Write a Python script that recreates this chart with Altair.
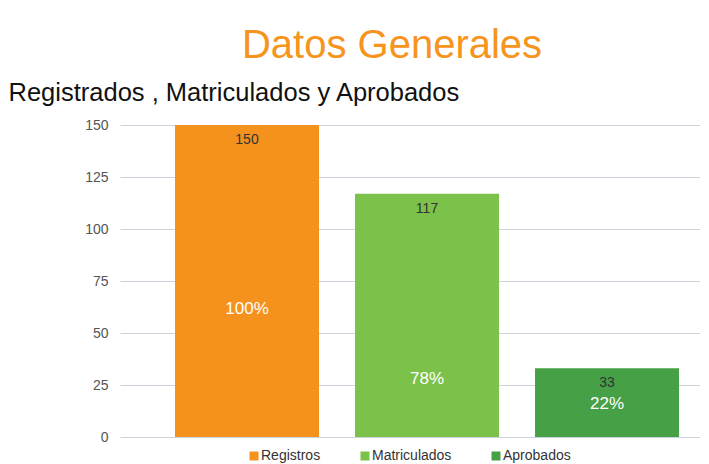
import altair as alt
import pandas as pd

categories = ["Registros", "Matriculados", "Aprobados"]
values = [150, 117, 33]
percents = ["100%", "78%", "22%"]
pct_label_at = [61.5, 28, 16]
colors = ["#f5921e", "#7cc24a", "#46a046"]
y_ticks = [0, 25, 50, 75, 100, 125, 150]

df = pd.DataFrame({
    "cat": categories,
    "val": values,
    "pct": percents,
    "pct_y": pct_label_at,
})

FONT = "Liberation Sans"

x = alt.X("cat:N", sort=categories,
          scale=alt.Scale(paddingInner=0.2, paddingOuter=0.211, align=0.724),
          axis=None)
y_scale = alt.Scale(domain=[0, 150], nice=False)

bars = alt.Chart(df).mark_bar().encode(
    x=x,
    y=alt.Y("val:Q", scale=y_scale,
            axis=alt.Axis(values=y_ticks, title="Registrados , Matriculados y Aprobados",
                          titleAngle=0, titleX=-112, titleY=-25, titleAlign="left",
                          titleBaseline="alphabetic", titleFont=FONT, titleFontSize=25.5,
                          titleFontWeight="normal", titleColor="#111",
                          labelFont=FONT, labelFontSize=14, labelColor="#555",
                          labelPadding=12, ticks=False, domain=False,
                          gridColor="#cdd3dd", gridWidth=1)),
    color=alt.Color("cat:N", sort=categories,
                    scale=alt.Scale(domain=categories, range=colors),
                    legend=alt.Legend(title=None, orient="none", direction="horizontal",
                                      legendX=127, legendY=324, symbolType="square",
                                      symbolSize=81, symbolStrokeWidth=0,
                                      labelFont=FONT, labelFontSize=14, labelColor="#333",
                                      labelOffset=0, columnPadding=37)),
)

val_text = alt.Chart(df).mark_text(font=FONT, fontSize=14, color="#333",
                                    baseline="middle", dy=15).encode(
    x=x, y=alt.Y("val:Q", scale=y_scale), text="val:Q")

pct_text = alt.Chart(df).mark_text(font=FONT, fontSize=17, color="#ffffff",
                                    baseline="middle").encode(
    x=x, y=alt.Y("pct_y:Q", scale=y_scale), text="pct:N")

chart = alt.layer(bars, val_text, pct_text).properties(
    width=580, height=312,
    padding={"left": 112, "top": 117, "right": 0, "bottom": 30},
    autosize=alt.AutoSizeParams(type="none"),
    title=alt.TitleParams(text="Datos Generales", anchor="middle", dx=-18,
                          font=FONT, fontSize=40, fontWeight="normal",
                          color="#f7941d", offset=-18, baseline="alphabetic"),
    background="#ffffff",
).configure_view(stroke=None)

chart.save("out.html", embed_options={"renderer": "svg", "actions": False})
